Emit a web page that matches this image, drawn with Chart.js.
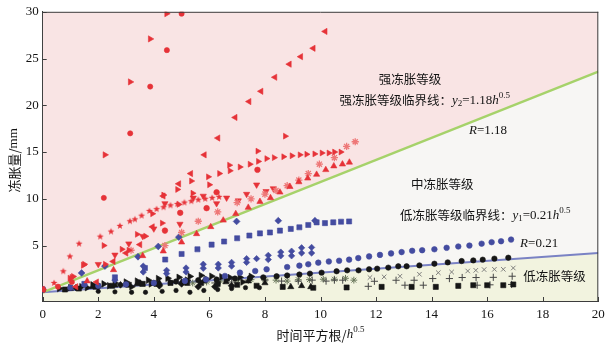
<!DOCTYPE html>
<html><head><meta charset="utf-8">
<script src="https://cdn.jsdelivr.net/npm/chart.js@4.4.0/dist/chart.umd.min.js"></script>
<style>html,body{margin:0;padding:0;background:#fff;}</style>
</head><body>
<canvas id="c" width="613" height="347"></canvas>
<script>
// ---------------- data (x = sqrt(h), y = frost heave mm) ----------------
const xTicks = [0,2,4,6,8,10,12,14,16,18,20];
const yTicks = [5,10,15,20,25,30];
const strongLine = [[0,0],[20,23.6]];   // y2 = 1.18 h^0.5
const weakLine   = [[0,0],[20,4.2]];    // y1 = 0.21 h^0.5

const redCircleSteep = [[0,0.3],[0.55,0.6],[1.05,1.1],[2.2,10.1],[3.15,17.0],[3.87,22.0],[4.47,25.9],[5.0,29.8]];
const redTriRightSteep = [[0,0.3],[0.98,1.5],[1.46,2.9],[2.24,14.7],[3.15,22.5],[3.87,27.1],[4.46,29.8]];
const redTriLeft = [[0,0.3],[1.2,0.6],[1.94,1.1],[2.54,3.3],[3.0,4.2],[3.5,5.1],[3.95,7.0],[4.34,10.3],[4.9,11.6],[5.33,12.7],[5.82,14.7],[6.31,16.5],[6.93,18.7],[7.43,20.4],[7.86,21.5],[8.36,23.0],[8.88,24.4],[9.29,25.2],[9.74,26.1],[10.17,27.9]];
const redTriRight = [[0,0.3],[1.05,1.6],[1.5,3.0],[2.2,5.0],[2.85,4.6],[3.4,6.2],[3.95,8.4],[4.35,10.4],[4.85,11.0],[5.35,11.9],[5.96,12.35],[6.36,12.7],[6.72,13.6],[7.1,13.4],[7.46,13.7],[7.76,14.0],[8.06,14.3],[8.33,14.4],[8.67,14.5],[8.97,14.6],[9.26,14.7],[9.5,14.76],[9.79,14.8],[10.05,14.9],[10.3,14.9],[10.5,15.0],[10.73,15.0]];
const redTriRight2 = [[0,0.3],[1.1,1.7],[2.25,3.0],[3.1,4.5],[3.7,6.0],[4.3,7.4],[4.9,9.4],[5.4,10.6],[6.0,11.5],[6.74,13.0],[7.74,15.1],[8.73,16.7]];
const redStar = [[0,0.3],[0.41,1.0],[0.74,2.25],[0.98,3.84],[1.31,5.2],[2.07,5.96],[2.46,6.5],[2.78,7.1],[3.14,7.6],[3.32,7.8],[3.56,8.2],[3.84,8.7],[4.1,8.9],[4.35,9.1],[4.6,9.3],[4.85,9.45],[5.1,9.6],[5.35,9.75],[5.6,9.9],[5.85,10.0],[6.1,10.1],[6.35,10.2]];
const redTriUp = [[0,0.3],[1.6,1.2],[2.55,2.4],[3.6,3.9],[4.34,4.4],[5.0,5.36],[5.54,6.25],[6.05,7.0],[6.5,7.7],[6.95,8.4],[7.4,9.07],[7.82,9.7],[8.2,10.1],[8.54,10.7],[8.9,11.3],[9.22,11.8],[9.54,12.2],[9.86,12.6],[10.19,13.1],[10.48,13.5],[10.79,13.7],[11.04,13.9]];
const redAsterisk = [[3.18,4.5],[4.4,5.0],[5.0,6.4],[5.6,7.6],[6.3,8.6],[7.0,9.6],[7.5,10.0],[8.0,10.5],[8.4,10.9],[8.8,11.4],[9.22,12.0],[9.56,12.7],[9.96,13.7],[10.5,14.4],[10.94,15.6],[11.25,16.1]];
const redTriDown = [[2.0,3.0],[2.6,4.0],[3.1,5.2],[3.6,6.0],[4.0,6.8],[4.4,9.5],[4.94,7.3],[5.42,10.1],[5.78,10.3],[6.26,9.5],[6.62,10.1],[7.04,9.8],[7.34,10.5],[7.7,11.5],[8.04,10.8],[8.3,11.1]];
const redCircleMid = [[4.4,6.6],[4.95,8.5],[5.9,9.0],[6.26,10.7],[7.73,13.1]];

const blueSquare = [[0,0.3],[1.5,0.9],[2.6,1.6],[3.68,2.6],[4.41,3.5],[5.0,4.1],[5.57,4.6],[6.08,5.1],[6.53,5.43],[7.0,5.78],[7.44,6.07],[7.82,6.3],[8.18,6.4],[8.54,6.6],[8.93,6.78],[9.24,6.95],[9.56,7.2],[9.86,7.48],[10.16,7.4],[10.46,7.48],[10.74,7.55],[11.03,7.58]];
const blueCircle = [[0,0.3],[1.0,0.5],[2.0,0.7],[3.0,0.85],[4.0,1.0],[5.12,1.22],[5.88,1.37],[6.56,1.75],[7.1,2.1],[7.65,2.28],[8.06,2.46],[8.8,2.7],[9.24,2.85],[9.56,3.0],[9.92,3.17],[10.3,3.3],[10.67,3.38],[11.03,3.49],[11.36,3.66],[11.75,3.84],[12.14,4.0],[12.54,4.16],[12.92,4.3],[13.3,4.44],[13.66,4.5],[14.1,4.6],[14.54,4.76],[14.96,4.9],[15.36,5.0],[15.8,5.2],[16.16,5.36],[16.5,5.46],[16.86,5.64]];
const blueDiamondUpper = [[0,0.3],[1.4,2.07],[2.24,2.8],[3.43,3.8],[4.16,4.9],[4.9,5.9],[6.98,7.58],[8.48,7.66],[9.8,7.66]];
const blueDiamondLow = [[1.5,0.8],[2.6,1.3],[3.62,2.17],[4.46,2.0],[5.16,2.17],[5.78,2.57],[6.32,2.6],[6.8,2.8],[7.34,3.2],[8.12,3.5],[8.57,3.9],[8.96,3.9],[9.32,4.2],[9.68,4.2]];
const blueDiamondHigh = [[3.62,2.8],[4.46,2.35],[5.16,2.6],[5.78,3.0],[6.32,3.0],[6.8,3.2],[7.34,3.6],[7.7,3.6],[8.12,3.95],[8.57,4.3],[8.96,4.4],[9.32,4.76],[9.68,4.8]];

const blackCircle = [[0,0.3],[1.0,0.5],[2.0,0.7],[3.0,0.85],[4.0,1.0],[4.8,1.15],[5.6,1.3],[6.26,1.37],[6.92,1.47],[7.46,1.54],[7.94,1.6],[8.42,1.72],[8.8,1.8],[9.24,1.9],[9.62,2.0],[10.04,2.1],[10.58,2.25],[10.96,2.35],[11.37,2.35],[11.75,2.46],[12.04,2.53],[12.44,2.64],[12.8,2.78],[13.1,2.78],[13.56,2.88],[14.1,3.06],[14.58,3.2],[15.08,3.34],[15.5,3.41],[15.84,3.49],[16.26,3.6],[16.76,3.7]];
const blackTriRight = [[0.6,0.4],[1.0,0.5],[1.4,0.6],[1.8,0.8],[2.2,0.9],[2.6,1.0],[3.0,1.1],[3.4,1.2],[3.8,1.3],[4.16,1.47],[4.5,1.5],[4.9,1.6],[5.3,1.7],[5.7,1.8],[6.08,1.72],[6.44,1.65],[6.74,1.58],[7.1,1.6],[7.5,1.7]];
const blackTriRight2 = [[1.6,0.5],[2.4,0.7],[3.2,0.6],[3.9,0.9],[4.6,1.1],[5.2,1.3],[5.9,1.4],[6.6,1.3],[7.2,1.1]];
const blackSquare = [[0.8,0.3],[1.3,0.4],[1.9,0.6],[2.5,0.7],[3.1,0.8],[3.6,0.9],[4.1,0.9],[4.6,1.0],[5.2,1.0],[5.7,1.0],[6.3,0.9],[7.0,0.8],[7.7,0.7],[8.64,0.58],[9.74,0.48],[10.94,0.52],[12.2,0.58],[13.28,0.58],[14.15,0.58],[14.96,0.69],[15.5,0.76],[16.0,0.76],[16.58,0.76],[16.94,0.84]];
const blackTriUp = [[1.0,0.4],[1.8,0.6],[2.6,0.75],[3.4,0.9],[4.2,1.0],[5.0,1.1],[5.8,1.2],[6.6,1.1],[7.4,1.2],[8.0,1.0],[8.93,0.58],[9.32,0.69],[9.65,0.58]];
const blackDiamond = [[1.2,0.5],[2.0,0.6],[2.8,0.8],[3.5,1.0],[4.2,0.7],[5.0,0.9],[5.6,0.6],[6.2,0.6],[6.8,0.7]];
const blackDot = [[2.0,0.1],[2.6,0.05],[3.2,0.0],[3.7,0.0],[4.3,0.1],[4.8,0.2],[5.3,0.0],[5.8,0.2],[6.3,0.3],[6.8,0.4],[7.3,0.5],[7.8,0.5]];
const darkPlus = [[6.2,1.0],[6.8,1.1],[7.4,1.3],[8.0,1.3],[8.6,1.2],[9.2,1.2],[9.7,1.3],[10.2,1.2],[10.5,1.3],[10.8,1.3],[11.72,0.64],[11.94,1.18],[12.72,1.29],[13.04,0.76],[13.37,1.29],[13.7,0.76],[14.04,1.47],[14.64,1.47],[15.1,1.58],[15.6,1.58],[15.64,0.76],[16.1,0.8],[16.22,1.6],[16.88,0.84],[16.9,1.72]];
const grayCross = [[11.78,1.58],[12.29,1.65],[12.86,1.72],[13.56,1.93],[14.24,2.1],[14.72,2.17],[15.3,2.28],[15.59,2.35],[15.89,2.43],[16.26,2.46],[16.58,2.46],[16.94,2.6]];
const oliveAsterisk = [[5.4,1.0],[5.9,1.1],[6.4,1.2],[7.0,1.3],[7.5,1.35],[8.0,1.4],[8.4,1.3],[8.8,1.2],[9.2,1.35],[9.6,1.35],[10.1,1.4],[10.5,1.4],[10.9,1.5],[11.2,1.3]];

// ---------------- styling ----------------
const RED = 'rgb(230,50,56)', RED_L = 'rgb(238,120,120)';
const BLUE = 'rgb(68,76,160)', BLACK = 'rgb(22,22,22)';
const GRAY = 'rgb(115,115,115)', OLIVE = 'rgb(105,118,90)';
const PINK_BG = 'rgb(249,228,228)', MID_BG = 'rgb(247,246,244)', LOW_BG = 'rgb(242,243,223)';

function starImg(color, r){
  const c = document.createElement('canvas');
  const s = Math.ceil(r*2+2); c.width = s; c.height = s;
  const g = c.getContext('2d'); g.fillStyle = color; g.beginPath();
  for(let i=0;i<10;i++){
    const a = -Math.PI/2 + i*Math.PI/5, rr = i%2===0 ? r : r*0.42;
    g.lineTo(s/2 + rr*Math.cos(a), s/2 + rr*Math.sin(a));
  }
  g.closePath(); g.fill(); return c;
}
const pts = a => a.map(p => ({x:p[0], y:p[1]}));
function sc(data, color, style, radius, rot, extra){
  return Object.assign({type:'scatter', data:pts(data), pointStyle:style, pointRadius:radius,
    pointRotation:rot||0, backgroundColor:color, borderColor:color, borderWidth:0.6, order:0}, extra||{});
}
const datasets = [
  sc(redCircleSteep, RED, 'circle', 2.6),
  sc(redTriRightSteep, RED, 'triangle', 3.6, 90),
  sc(redTriLeft, RED, 'triangle', 3.6, -90),
  sc(redTriRight, RED, 'triangle', 3.4, 90),
  sc(redTriRight2, RED, 'triangle', 3.4, 90),
  sc(redStar, RED, starImg(RED,3.6), 3.6),
  sc(redTriUp, RED, 'triangle', 3.6),
  sc(redAsterisk, RED_L, 'star', 3.6, 0, {borderWidth:1.3}),
  sc(redTriDown, RED, 'triangle', 3.6, 180),
  sc(redCircleMid, RED, 'circle', 2.8),
  sc(blueSquare, BLUE, 'rect', 3.6),
  sc(blueCircle, BLUE, 'circle', 2.8),
  sc(blueDiamondUpper, BLUE, 'rectRot', 3.4),
  sc(blueDiamondLow, BLUE, 'rectRot', 3.2),
  sc(blueDiamondHigh, BLUE, 'rectRot', 3.2),
  sc(blackCircle, BLACK, 'circle', 2.7),
  sc(blackTriRight, BLACK, 'triangle', 3.8, 90),
  sc(blackTriRight2, BLACK, 'triangle', 3.8, 90),
  sc(blackSquare, BLACK, 'rect', 3.6),
  sc(blackTriUp, BLACK, 'triangle', 3.6),
  sc(blackDiamond, BLACK, 'rectRot', 3.4),
  sc(blackDot, BLACK, 'circle', 2.2),
  sc(darkPlus, 'rgb(70,70,70)', 'cross', 3.6, 0, {borderWidth:1}),
  sc(grayCross, GRAY, 'crossRot', 3.2, 0, {borderWidth:0.9}),
  sc(oliveAsterisk, OLIVE, 'star', 3.4, 0, {borderWidth:1}),
  {type:'line', data:pts(strongLine), borderColor:'rgb(166,210,106)', borderWidth:2.4, pointRadius:0,
    fill:'end', backgroundColor:PINK_BG, order:1},
  {type:'line', data:pts(weakLine), borderColor:'rgb(122,130,196)', borderWidth:2, pointRadius:0,
    fill:'start', backgroundColor:LOW_BG, order:1}
];

const CJK = '12.5px "Noto Sans CJK SC"';
const CJK_T = '13px "Noto Sans CJK SC"';
const SER = '13px "Liberation Serif"';
const SER_I = 'italic 13px "Liberation Serif"';
const SMALL = '9px "Liberation Serif"';

function rich(ctx, runs, x, y, align){
  let w = 0;
  runs.forEach(r => { ctx.font = r.f; r.w = ctx.measureText(r.t).width; w += r.w; });
  let cx = align === 'center' ? x - w/2 : (align === 'right' ? x - w : x);
  ctx.textAlign = 'left'; ctx.textBaseline = 'middle';
  runs.forEach(r => { ctx.font = r.f; ctx.fillText(r.t, cx, y + (r.dy||0)); cx += r.w; });
}

const decor = {
  id:'decor',
  beforeDraw(chart){
    const {ctx, chartArea:a} = chart;
    ctx.save(); ctx.fillStyle = MID_BG; ctx.fillRect(a.left, a.top, a.right-a.left, a.bottom-a.top); ctx.restore();
  },
  afterDraw(chart){
    const {ctx, chartArea:a, scales:{x, y}} = chart;
    ctx.save();
    ctx.strokeStyle = 'rgb(60,60,60)'; ctx.lineWidth = 1;
    ctx.beginPath();
    ctx.moveTo(a.left, a.top+0.5); ctx.lineTo(a.right, a.top+0.5);
    ctx.moveTo(a.right-0.5, a.top); ctx.lineTo(a.right-0.5, a.bottom);
    ctx.stroke();
    ctx.beginPath();
    x.ticks.forEach(t => { const px = Math.round(x.getPixelForValue(t.value))+0.5; ctx.moveTo(px, a.bottom); ctx.lineTo(px, a.bottom-4); });
    y.ticks.forEach(t => { const py = Math.round(y.getPixelForValue(t.value))+0.5; ctx.moveTo(a.left, py); ctx.lineTo(a.left+4, py); });
    ctx.stroke();
    ctx.fillStyle = 'rgb(20,20,20)';
    const P = (vx, vy) => [x.getPixelForValue(vx), y.getPixelForValue(vy)];
    let p;
    p = P(13.22, 22.8); rich(ctx, [{t:'强冻胀等级', f:CJK}], p[0], p[1], 'center');
    p = P(10.68, 20.5); rich(ctx, [{t:'强冻胀等级临界线：', f:CJK},{t:'y', f:SER_I},{t:'2', f:SMALL, dy:3},{t:'=1.18', f:SER},{t:'h', f:SER_I},{t:'0.5', f:SMALL, dy:-5}], p[0], p[1], 'left');
    p = P(16.03, 17.3); rich(ctx, [{t:'R', f:SER_I},{t:'=1.18', f:SER}], p[0], p[1], 'center');
    p = P(14.38, 11.58); rich(ctx, [{t:'中冻胀等级', f:CJK}], p[0], p[1], 'center');
    p = P(12.86, 8.19); rich(ctx, [{t:'低冻胀等级临界线：', f:CJK},{t:'y', f:SER_I},{t:'1', f:SMALL, dy:3},{t:'=0.21', f:SER},{t:'h', f:SER_I},{t:'0.5', f:SMALL, dy:-5}], p[0], p[1], 'left');
    p = P(17.87, 5.22); rich(ctx, [{t:'R', f:SER_I},{t:'=0.21', f:SER}], p[0], p[1], 'center');
    p = P(18.42, 1.72); rich(ctx, [{t:'低冻胀等级', f:CJK}], p[0], p[1], 'center');
    // axis titles
    rich(ctx, [{t:'时间平方根/', f:CJK_T},{t:'h', f:SER_I},{t:'0.5', f:SMALL, dy:-5}], (a.left+a.right)/2, 335, 'center');
    ctx.translate(14, (a.top+a.bottom)/2 + 4); ctx.rotate(-Math.PI/2);
    rich(ctx, [{t:'冻胀量/', f:CJK_T},{t:'mm', f:SER}], 0, 0, 'center');
    ctx.restore();
  }
};

new Chart(document.getElementById('c'), {
  type:'scatter',
  data:{datasets},
  options:{
    responsive:false, animation:false, devicePixelRatio:1, events:[],
    layout:{padding:{top:11, right:14.7, left:0, bottom:0}},
    plugins:{legend:{display:false}, tooltip:{enabled:false}, filler:{drawTime:'beforeDatasetsDraw'}},
    scales:{
      x:{type:'linear', min:0, max:20,
        afterBuildTicks(s){ s.ticks = xTicks.map(v => ({value:v})); },
        afterFit(s){ s.height = 46; },
        grid:{display:false, drawTicks:false}, border:{display:true, color:'rgb(60,60,60)', width:1},
        ticks:{padding:6, color:'rgb(20,20,20)', font:{family:'Liberation Serif', size:13}}},
      y:{type:'linear', min:-0.93, max:30,
        afterBuildTicks(s){ s.ticks = yTicks.map(v => ({value:v})); },
        afterFit(s){ s.width = 42.7; },
        grid:{display:false, drawTicks:false}, border:{display:true, color:'rgb(60,60,60)', width:1},
        ticks:{padding:4, color:'rgb(20,20,20)', font:{family:'Liberation Serif', size:13}}}
    }
  },
  plugins:[decor]
});
</script>
</body></html>
